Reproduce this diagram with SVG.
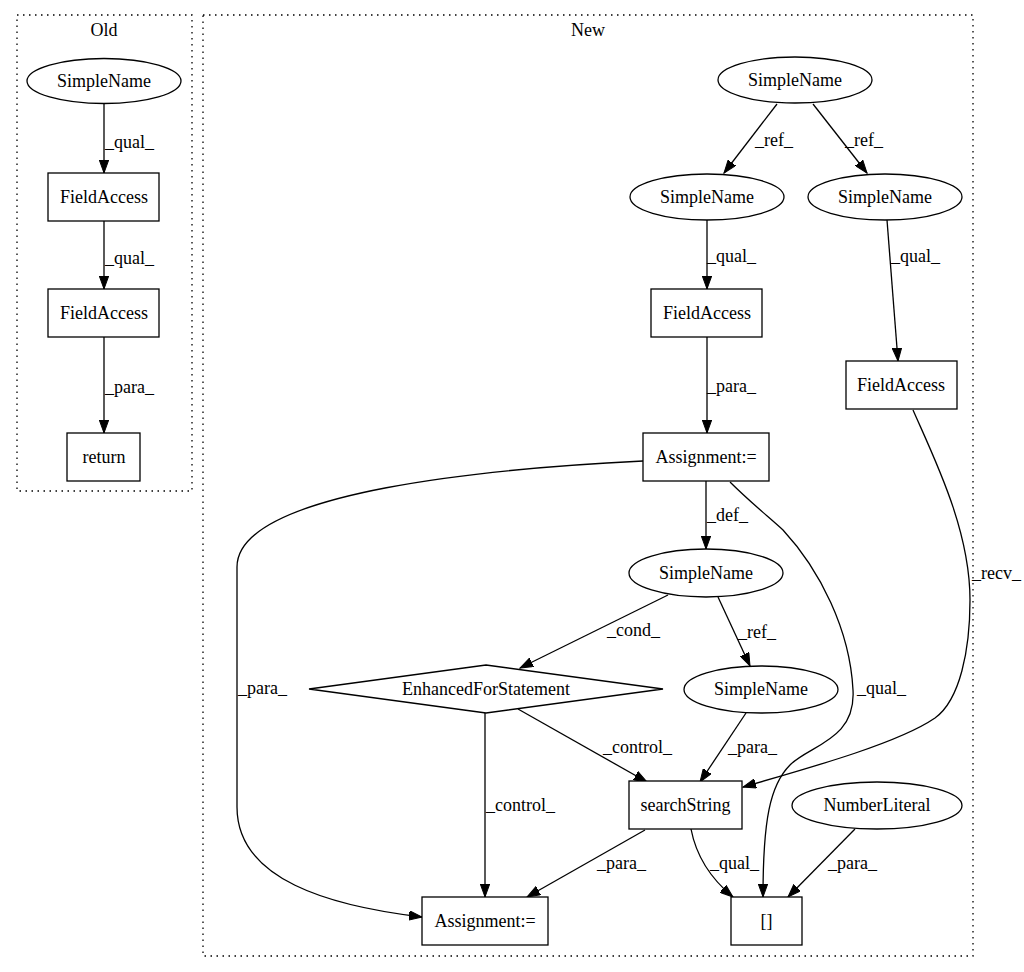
<svg xmlns="http://www.w3.org/2000/svg" width="1024" height="972" viewBox="0 0 1024 972">
<style>
text{font-family:"Liberation Serif","Times New Roman",serif;font-size:18px;fill:#000}
.n{fill:#fff;stroke:#000;stroke-width:1.3}
.c{fill:none;stroke:#000;stroke-width:1.3;stroke-dasharray:1.5,4.5}
.e{fill:none;stroke:#000;stroke-width:1.3;marker-end:url(#ah)}
.m{text-anchor:middle}
</style>
<defs>
<marker id="ah" markerWidth="14" markerHeight="10" refX="13" refY="5" orient="auto" markerUnits="userSpaceOnUse">
<path d="M0,0.3 L13,5 L0,9.7 Z" fill="#000" stroke="#000" stroke-width="1"/>
</marker>
</defs>
<rect width="1024" height="972" fill="#fff"/>
<g id="cluster-old">
<rect class="c" x="17" y="15" width="175" height="476"/>
<text class="m" x="104" y="36">Old</text>
</g>
<g id="cluster-new">
<rect class="c" x="203" y="15" width="770" height="941"/>
<text class="m" x="588" y="36">New</text>
</g>
<g id="edges">
<path class="e" d="M104,103 L104,173"/>
<text x="105" y="148">_qual_</text>
<path class="e" d="M104,221 L104,289"/>
<text x="105" y="264">_qual_</text>
<path class="e" d="M104,337 L104,433"/>
<text x="105" y="393">_para_</text>

<path class="e" d="M777,104 L724,173"/>
<text x="755" y="146">_ref_</text>
<path class="e" d="M813,104 L867,173"/>
<text x="845" y="146">_ref_</text>
<path class="e" d="M707,220 L707,289"/>
<text x="707" y="262">_qual_</text>
<path class="e" d="M887,220 L898,361"/>
<text x="891" y="262">_qual_</text>
<path class="e" d="M707,337 L707,433"/>
<text x="707" y="392">_para_</text>
<path class="e" d="M706,481 L706,549"/>
<text x="707" y="521">_def_</text>
<path class="e" d="M668,595 L520,668"/>
<text x="607" y="636">_cond_</text>
<path class="e" d="M718,597 L750,666"/>
<text x="738" y="638">_ref_</text>
<path class="e" d="M746,713 L700,782"/>
<text x="728" y="753">_para_</text>
<path class="e" d="M518,709 L647,782"/>
<text x="603" y="753">_control_</text>
<path class="e" d="M485,713 L485,897"/>
<text x="486" y="811">_control_</text>
<path class="e" d="M645,830 L527,897"/>
<text x="597" y="869">_para_</text>
<path class="e" d="M643,461 C500,468 237,490 237,567 L237,807 C237,880 330,906 422,917"/>
<text x="238" y="694">_para_</text>
<path class="e" d="M730,482 C750,502 770,518 783,530 C820,570 850,630 853,690 C856,740 810,745 790,765 C770,785 763,820 763,897"/>
<text x="857" y="694">_qual_</text>
<path class="e" d="M913,410 C935,460 970,530 970,600 C970,650 960,700 935,718 C900,742 820,765 743,787"/>
<text x="972" y="579">_recv_</text>
<path class="e" d="M855,829 L788,897"/>
<text x="828" y="869">_para_</text>
<path class="e" d="M691,829 C696,855 710,878 733,897"/>
<text x="710" y="869">_qual_</text>
</g>
<g id="old-simplename"><ellipse class="n" cx="104" cy="81" rx="77" ry="22.5"/><text class="m" x="104" y="87">SimpleName</text></g>
<g id="old-fieldaccess1"><rect class="n" x="48" y="173" width="111" height="48"/><text class="m" x="104" y="203">FieldAccess</text></g>
<g id="old-fieldaccess2"><rect class="n" x="48" y="289" width="111" height="48"/><text class="m" x="104" y="319">FieldAccess</text></g>
<g id="old-return"><rect class="n" x="67" y="433" width="73" height="48"/><text class="m" x="104" y="463">return</text></g>

<g id="new-simplename-top"><ellipse class="n" cx="795" cy="80" rx="77" ry="23"/><text class="m" x="795" y="86">SimpleName</text></g>
<g id="new-simplename-left"><ellipse class="n" cx="707" cy="197" rx="77" ry="23"/><text class="m" x="707" y="203">SimpleName</text></g>
<g id="new-simplename-right"><ellipse class="n" cx="885" cy="197" rx="77" ry="23"/><text class="m" x="885" y="203">SimpleName</text></g>
<g id="new-fieldaccess-left"><rect class="n" x="651" y="289" width="111" height="48"/><text class="m" x="707" y="319">FieldAccess</text></g>
<g id="new-fieldaccess-right"><rect class="n" x="846" y="361" width="111" height="48"/><text class="m" x="901" y="391">FieldAccess</text></g>
<g id="new-assignment-top"><rect class="n" x="643" y="433" width="126" height="48"/><text class="m" x="706" y="463">Assignment:=</text></g>
<g id="new-simplename-mid"><ellipse class="n" cx="706" cy="573" rx="77" ry="24"/><text class="m" x="706" y="579">SimpleName</text></g>
<g id="new-enhancedfor"><polygon class="n" points="486,665 663,689 486,713 309,689"/><text class="m" x="486" y="695">EnhancedForStatement</text></g>
<g id="new-simplename-low"><ellipse class="n" cx="761" cy="689.5" rx="77" ry="23.5"/><text class="m" x="761" y="695">SimpleName</text></g>
<g id="new-searchstring"><rect class="n" x="629" y="781" width="113" height="48"/><text class="m" x="685.5" y="811">searchString</text></g>
<g id="new-numberliteral"><ellipse class="n" cx="877" cy="805.5" rx="85" ry="23.5"/><text class="m" x="877" y="811">NumberLiteral</text></g>
<g id="new-assignment-bottom"><rect class="n" x="422" y="897" width="126" height="48"/><text class="m" x="485" y="927">Assignment:=</text></g>
<g id="new-index"><rect class="n" x="731" y="897" width="71" height="48"/><text class="m" x="766.5" y="927">[]</text></g>
</svg>
